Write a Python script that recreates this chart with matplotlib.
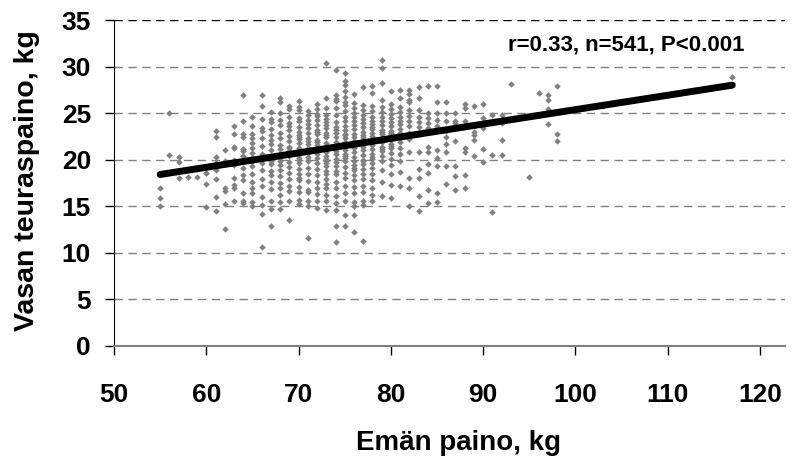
import numpy as np
from matplotlib import pyplot as plt

plt.rcParams['font.family'] = ['Liberation Sans', 'DejaVu Sans']

# emän paino (kg) -> vasan teuraspainot (kg), luettu kuvasta sarakkeittain
columns = {
    55: [17.0, 15.9, 15.0],
    56: [20.5, 25.0],
    57: [18.0, 20.3, 19.7],
    58: [18.1],
    59: [18.1, 19.0],
    60: [18.6, 18.6, 14.9, 19.2, 17.4],
    61: [17.9, 23.1, 22.4, 20.3, 16.0, 14.5, 19.6, 18.9],
    62: [17.0, 12.5, 15.2, 19.8, 19.5, 21.0, 16.6],
    63: [22.8, 21.4, 21.2, 17.3, 16.9, 18.0, 20.0, 19.4, 15.5, 23.6],
    64: [26.9, 22.8, 22.4, 19.1, 15.3, 21.1, 20.9, 20.4, 18.3, 17.8, 16.4, 20.0, 24.2, 15.5],
    65: [23.6, 22.8, 22.3, 21.3, 20.7, 16.9, 16.4, 15.4, 19.8, 18.4, 20.2, 24.6, 17.6, 19.3, 21.8, 15.0],
    66: [26.9, 25.8, 23.4, 23.1, 22.3, 10.6, 21.5, 20.6, 19.6, 18.9, 17.9, 17.2, 16.0, 15.1, 14.2, 24.4, 20.1],
    67: [24.4, 24.0, 22.6, 21.7, 21.0, 20.3, 19.5, 18.8, 18.3, 17.6, 16.8, 15.6, 14.7, 12.9, 22.1, 23.3, 19.9, 25.1],
    68: [26.6, 26.2, 25.0, 23.7, 22.9, 22.3, 21.6, 21.1, 20.6, 19.9, 19.4, 18.9, 18.2, 17.5, 16.9, 16.2, 15.4, 14.7, 20.2, 24.3],
    69: [25.8, 25.4, 24.6, 23.9, 23.2, 22.5, 22.0, 21.4, 20.9, 20.4, 19.7, 19.2, 18.6, 17.9, 17.2, 16.6, 15.6, 13.5, 21.2, 23.6],
    70: [26.3, 25.6, 25.3, 24.5, 24.1, 23.5, 23.0, 22.6, 22.2, 21.8, 21.3, 20.9, 20.5, 20.0, 19.6, 19.0, 18.5, 17.8, 17.1, 16.5, 15.7, 15.2, 22.4, 20.2, 21.0, 18.0],
    71: [25.2, 24.8, 24.3, 23.8, 23.4, 22.9, 22.3, 21.7, 21.2, 20.7, 20.3, 19.8, 19.1, 18.4, 17.7, 16.7, 16.5, 15.5, 15.0, 11.6, 22.0, 20.0],
    72: [26.0, 25.4, 24.7, 24.3, 23.7, 23.2, 22.7, 22.1, 21.6, 21.1, 20.6, 20.2, 19.6, 19.0, 18.3, 17.6, 17.0, 16.3, 15.6, 14.8, 21.9, 23.0, 20.9, 24.9],
    73: [30.4, 26.6, 25.5, 24.8, 24.0, 23.4, 22.9, 22.4, 21.8, 21.3, 20.8, 20.4, 19.9, 19.3, 18.8, 18.4, 17.9, 17.4, 16.9, 16.2, 15.5, 14.6, 21.5, 22.6, 20.1, 24.4, 23.7, 19.6],
    74: [29.6, 26.9, 26.5, 26.3, 25.5, 24.8, 24.0, 23.5, 22.9, 22.4, 21.9, 21.5, 21.2, 20.6, 20.1, 19.7, 19.3, 18.8, 18.4, 17.6, 16.9, 16.1, 15.3, 14.6, 12.9, 11.1, 23.2, 20.9],
    75: [29.3, 28.5, 28.0, 27.4, 26.7, 26.2, 25.9, 25.2, 24.6, 24.1, 23.6, 23.2, 22.8, 22.3, 21.9, 21.5, 21.0, 20.6, 20.2, 19.8, 19.2, 18.6, 18.0, 17.2, 16.4, 15.5, 14.1, 12.9, 22.6, 20.4],
    76: [27.0, 26.1, 25.5, 25.0, 24.6, 24.1, 23.7, 23.3, 22.8, 22.4, 22.0, 21.6, 21.2, 20.8, 20.3, 19.9, 19.4, 18.9, 18.3, 17.8, 17.1, 16.4, 15.4, 15.0, 14.1, 12.2, 21.4, 19.1],
    77: [27.8, 25.9, 25.3, 24.8, 24.4, 23.9, 23.5, 23.0, 22.6, 22.2, 21.8, 21.4, 21.0, 20.5, 20.0, 19.5, 19.0, 18.4, 17.9, 17.2, 16.5, 15.6, 15.1, 11.3, 22.4, 19.8],
    78: [27.9, 27.2, 25.8, 25.2, 24.6, 24.2, 23.8, 23.3, 22.9, 22.5, 22.1, 21.6, 21.1, 20.6, 20.1, 19.6, 19.1, 18.5, 17.8, 17.0, 16.2, 15.5, 23.5, 20.3],
    79: [30.7, 29.8, 28.2, 26.4, 25.6, 25.1, 24.6, 24.2, 23.7, 23.2, 22.8, 22.3, 21.9, 21.4, 20.9, 20.4, 19.8, 18.9, 17.6, 16.1, 23.0, 21.1],
    80: [27.4, 26.0, 25.4, 24.9, 24.5, 24.0, 23.6, 23.1, 22.7, 22.2, 21.7, 21.2, 20.7, 20.1, 19.4, 18.5, 17.3, 15.9, 22.9, 21.5],
    81: [27.5, 26.6, 25.7, 25.1, 24.6, 24.2, 23.8, 23.3, 22.9, 22.4, 21.9, 21.3, 20.6, 19.8, 18.7, 17.2],
    82: [27.5, 27.0, 26.4, 26.2, 25.3, 24.7, 24.1, 23.6, 22.9, 22.2, 20.8, 18.0, 17.0, 15.0],
    83: [27.8, 26.6, 25.3, 24.6, 24.0, 23.5, 22.8, 20.8, 19.0, 18.0, 14.5, 16.1],
    84: [27.9, 25.0, 24.5, 23.9, 23.4, 21.4, 20.8, 19.5, 18.6, 15.3, 16.7],
    85: [27.9, 26.2, 25.0, 24.3, 23.6, 21.0, 19.3, 16.4, 15.4, 20.2],
    86: [26.2, 25.0, 24.2, 23.1, 22.4, 20.8, 19.3, 21.7, 17.4],
    87: [25.0, 24.2, 23.9, 22.0, 19.3, 16.7, 18.2],
    88: [26.0, 25.5, 24.2, 21.2, 20.8, 18.3, 17.0],
    89: [25.8, 23.0, 22.1, 20.4, 22.6],
    90: [26.0, 23.4, 19.7, 21.1, 24.5],
    91: [24.8, 23.9, 20.5, 14.4],
    92: [23.9, 20.5, 24.8, 22.1],
    93: [28.1],
    95: [18.1],
    96: [27.2],
    97: [26.9, 26.4, 25.4, 23.8],
    98: [27.9, 22.8, 22.0],
    103: [25.8],
    109: [26.7],
    117: [28.9],
}
mother_kg = [k for k, v in columns.items() for _ in v]
calf_kg = [y for v in columns.values() for y in v]

# trendiviivan päätepisteet kuvasta
trend_x = [55, 117]
trend_y = [18.4, 28.0]

fig = plt.figure(figsize=(7.93, 4.59), dpi=100)
ax = fig.add_axes([0.1438, 0.2468, 0.846, 0.7096])

ax.plot(mother_kg, calf_kg, linestyle='none', marker='D', ms=3.3,
        color='#808080', mec='none', zorder=3)
ax.plot(trend_x, trend_y, color='black', lw=5, solid_capstyle='round', zorder=4)

ax.set_xlim(50, 122.7)
ax.set_ylim(0, 35)
ax.set_xticks(range(50, 121, 10))
ax.set_yticks(range(0, 36, 5))

for yv in range(5, 36, 5):
    ax.axhline(yv, color='black' if yv == 35 else '#808080', lw=1,
               dashes=(6, 4), zorder=1)

for s in ['top', 'right']:
    ax.spines[s].set_visible(False)
ax.spines['left'].set_color('black')
ax.spines['bottom'].set_color('#808080')
ax.spines['bottom'].set_linewidth(1.5)
ax.tick_params(direction='out', length=6.5, width=1, color='black', labelsize=19)
ax.tick_params(axis='y', pad=10)
ax.tick_params(axis='x', pad=20)
for lab in ax.get_xticklabels() + ax.get_yticklabels():
    lab.set_fontweight('bold')

ax.set_xlabel('Emän paino, kg', fontsize=20, fontweight='bold')
ax.set_ylabel('Vasan teuraspaino, kg', fontsize=20.5, fontweight='bold')
ax.xaxis.set_label_coords(0.514, -0.259)
ax.yaxis.set_label_coords(-0.110, 0.506)

ax.text(105.5, 32.3, 'r=0.33, n=541, P<0.001', fontsize=16, fontweight='bold',
        ha='center', va='center')

fig.savefig('out.png', dpi=100)
